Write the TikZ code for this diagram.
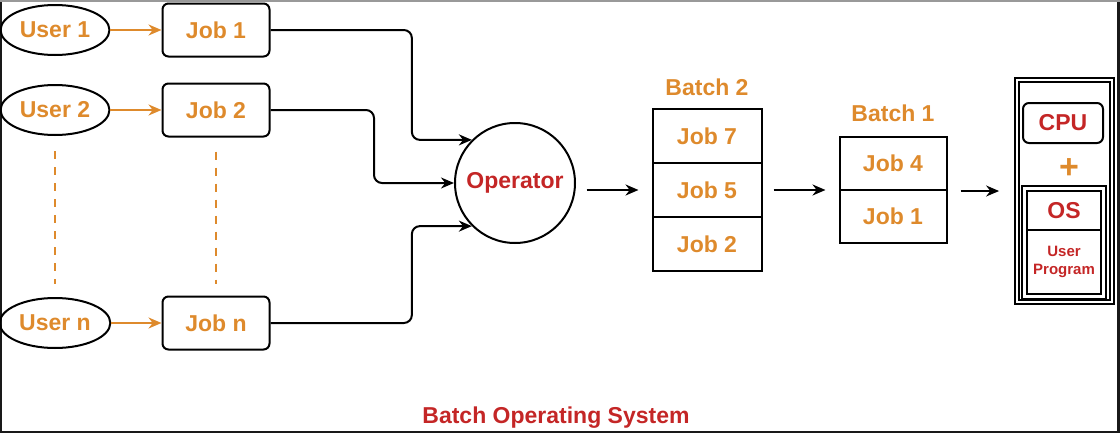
\documentclass[tikz,border=0pt]{standalone}
\usepackage{fontspec}
\setmainfont{Liberation Sans}
\usetikzlibrary{shapes,arrows.meta,calc}
\definecolor{joborange}{RGB}{222,138,44}
\definecolor{opred}{RGB}{196,38,38}
\tikzset{
  user/.style={ellipse, draw, line width=2pt, minimum width=105pt, minimum height=50pt, text=joborange},
  job/.style={rectangle, rounded corners=6pt, draw, line width=2pt, minimum width=107pt, minimum height=53pt, text=joborange},
  cell/.style={rectangle, draw, line width=2pt, minimum width=109pt, minimum height=54pt, text=joborange},
  conn/.style={line width=2pt, -{Stealth[length=13pt,width=11pt]}, rounded corners=8pt},
  userarrow/.style={conn, joborange},
  dots/.style={joborange, line width=2pt, dash pattern=on 8pt off 8pt}
}

\begin{document}
\begin{tikzpicture}[x=1pt, y=-1pt, font=\fontsize{23}{27}\selectfont\bfseries]
  \useasboundingbox (0,0) rectangle (1120,434);
  \draw [line width=2.5pt, black!90] (1,0) -- (1,432) -- (1118.5,432) -- (1118.5,0);
  \draw [line width=1.5pt, black!40] (0,0.75) -- (1120,0.75);
  \node [user](u1) at (55,30){User 1};
  \node [user](u2) at (55,110){User 2};
  \node [user](un) at (55,323){User n};
  \node [job](j1) at (216,30){Job 1};
  \node [job](j2) at (216,110){Job 2};
  \node [job](jn) at (216,323){Job n};
  \draw [userarrow] (u1) -- (j1);
  \draw [userarrow] (u2) -- (j2);
  \draw [userarrow] (un) -- (jn);
  \draw [dots] ([yshift=-15pt]u2.south) -- ([yshift=13pt]un.north);
  \draw [dots] ([yshift=-14pt]j2.south) -- ([yshift=12pt]jn.north);
  \node [circle, draw, line width=2pt, minimum size=120pt, text=opred](op) at (515,183){Operator};
  \draw [conn] (j1.east) -| ([xshift=-60pt]op.135) -- (op.135);
  \draw [conn] (j2.east) -| ([xshift=-80pt]op.west) -- (op.west);
  \draw [conn] (jn.east) -| ([xshift=-60pt]op.225) -- (op.225);
  \node [cell](b2a) at (707,136){Job 7};
  \node [cell](b2m) at (707,190){Job 5};
  \node [cell](b2c) at (707,244){Job 2};
  \node [text=joborange](b2lbl) at (707,87){Batch 2};
  \draw [conn] ([xshift=-65pt]b2m.west) -- ([xshift=-13pt]b2m.west);
  \node [cell, minimum width=107pt, minimum height=53pt](b1a) at (893,163.5){Job 4};
  \node [cell, minimum width=107pt, minimum height=53pt](b1b) at (893,216.5){Job 1};
  \node [text=joborange](b1lbl) at (893,113){Batch 1};
  \draw [conn] ($(b2m.east)+(11,0)$) -- ($(b2m.east -| b1a.west)+(-13,0)$);
  \node [rectangle, draw, double, line width=1.8pt, double distance=2pt, minimum width=95pt, minimum height=222pt](sys) at (1064.5,191){};
  \draw [conn] ($(b1a.south east)+(13,0)$) -- ($(b1a.south east -| sys.west)+(-17,0)$);
  \node [rectangle, rounded corners=6pt, draw, line width=2pt, minimum width=80pt, minimum height=40pt, text=opred](cpu) at (1063,123){CPU};
  \node [text=joborange, font=\fontsize{34}{36}\selectfont\bfseries](plus) at (1069,169){+};
  \node [rectangle, draw, line width=2pt, minimum width=74pt, minimum height=39pt, text=opred](os) at (1064,210.5){OS};
  \node [rectangle, draw, line width=2pt, minimum width=74pt, minimum height=64pt, text=opred, align=center, font=\fontsize{15}{18}\selectfont\bfseries](prog) at (1064,262){User\\Program};
  \draw [line width=1.8pt] ([shift={(-4pt,4pt)}]os.north west) rectangle ([shift={(4pt,-4pt)}]prog.south east);
  \node [text=opred](title) at (556,418){Batch Operating System};
\end{tikzpicture}
\end{document}
